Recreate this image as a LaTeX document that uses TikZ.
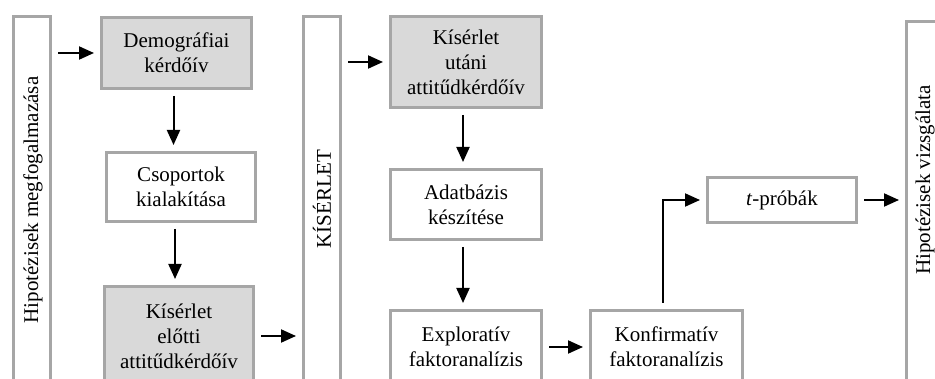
\documentclass[tikz,border=0pt]{standalone}
\usepackage{fontspec}
\setmainfont{Liberation Serif}
\usetikzlibrary{arrows.meta,positioning}
\definecolor{boxgray}{HTML}{A6A6A6}
\definecolor{boxfill}{HTML}{D9D9D9}

\begin{document}
\begin{tikzpicture}[x=1pt,y=-1pt,
  box/.style={draw=boxgray, line width=3pt, align=center, inner sep=0pt, anchor=north west, font=\fontsize{21}{25}\selectfont},
  shaded/.style={box, fill=boxfill},
  tall/.style={draw=boxgray, line width=3pt, minimum width=37pt, minimum height=450pt, inner sep=0pt, anchor=north},
  vlabel/.style={rotate=90, inner sep=0pt, font=\fontsize{21}{25}\selectfont},
  >={Triangle[length=15pt,width=13pt]},
  arr/.style={->, line width=2pt, shorten <=6pt, shorten >=6pt}]

\useasboundingbox (0,0) rectangle (935,379);
\clip (0,0) rectangle (935,379);

% tall columns
\node[tall] (hipa) at (32,15) {};
\node[tall] (kis) at (322,15) {};
\node[tall] (hipb) at (925,20) {};
\node[vlabel] (hipatext) at (33,200) {Hipotézisek megfogalmazása};
\node[vlabel] (kistext) at (322,199) {KÍSÉRLET};
\node[vlabel] (hipbtext) at (925,180) {Hipotézisek vizsgálata};

% boxes
\node[shaded, minimum width=150pt, minimum height=71pt] (demo) at (100,16) {Demográfiai\\kérdőív};
\node[box, minimum width=149pt, minimum height=69pt] (csop) at (105,151) {Csoportok\\kialakítása};
\node[shaded, minimum width=149pt, minimum height=99pt] (elotti) at (103,285) {Kísérlet\\előtti\\attitűdkérdőív};
\node[shaded, minimum width=151pt, minimum height=91pt] (utani) at (389,15) {Kísérlet\\utáni\\attitűdkérdőív};
\node[box, minimum width=151pt, minimum height=70pt] (adat) at (389,168) {Adatbázis\\készítése};
\node[box, minimum width=151pt, minimum height=73pt] (expl) at (389,309) {Exploratív\\faktoranalízis};
\node[box, minimum width=152pt, minimum height=73pt] (konf) at (589,309) {Konfirmatív\\faktoranalízis};
\node[box, minimum width=149pt, minimum height=45pt] (tprob) at (706,176) {\textit{t}-próbák};

% arrows
\draw[arr] (hipa.east |- demo.west) -- (demo.west);
\draw[arr] ([xshift=-3pt]demo.south) -- ([xshift=-3pt]demo.south |- csop.north);
\draw[arr] ([xshift=-6pt]csop.south) -- ([xshift=-6pt]csop.south |- elotti.north);
\draw[arr] (elotti.east) -- (elotti.east -| kis.west);
\draw[arr] (kis.east |- utani.west) -- (utani.west);
\draw[arr] ([xshift=-3pt]utani.south) -- ([xshift=-3pt]utani.south |- adat.north);
\draw[arr] ([xshift=-3pt]adat.south) -- ([xshift=-3pt]adat.south |- expl.north);
\draw[arr] (expl.east) -- (expl.east -| konf.west);
\draw[arr] ([xshift=-4pt]konf.north) |- (tprob.west);
\draw[arr] (tprob.east) -- (tprob.east -| hipb.west);

\end{tikzpicture}
\end{document}
